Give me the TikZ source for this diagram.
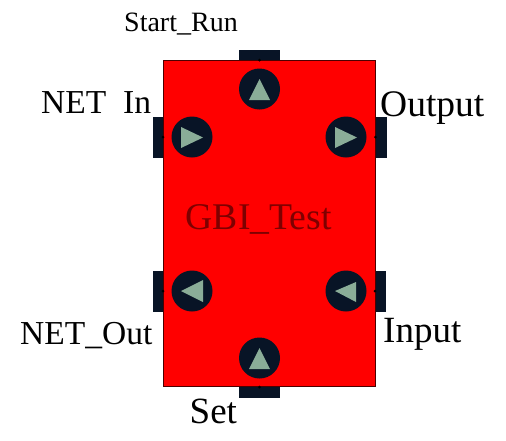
\documentclass[tikz,border=0pt]{standalone}
\usepackage{fontspec}
\setmainfont{Liberation Serif}
\definecolor{navy}{HTML}{081426}
\definecolor{sage}{HTML}{8AAD98}
\definecolor{darkred}{HTML}{7E0000}
\tikzset{
  port/.style={circle,fill=navy,minimum size=41pt,inner sep=0pt},
  hbar/.style={rectangle,fill=navy,minimum width=41pt,minimum height=11pt,inner sep=0pt},
  vbar/.style={rectangle,fill=navy,minimum width=11pt,minimum height=41pt,inner sep=0pt},
  tri/.style={fill=sage},
  pin/.style={circle,fill=black,minimum size=3pt,inner sep=0pt},
  lab/.style={inner sep=0pt,anchor=base west,text=black},
}
\begin{document}
\begin{tikzpicture}[x=1pt,y=-1pt]
\useasboundingbox (0,0) rectangle (506,440);
\node[hbar] (bt) at (259.5,55) {};
\node[hbar] (bb) at (259.5,392) {};
\node[vbar] (bul) at (158,137) {};
\node[vbar] (bur) at (381,137) {};
\node[vbar] (bll) at (158,291) {};
\node[vbar] (blr) at (380,291) {};
\node[draw=black!70!red,line width=0.8pt,fill=red,minimum width=212pt,minimum height=326pt,inner sep=0pt] (body) at (269.5,223) {};
\node[pin] (pt) at (259.5,60) {};
\node[pin] (pb) at (259.5,387) {};
\node[pin] (pul) at (163,137) {};
\node[pin] (pur) at (375.5,137) {};
\node[pin] (pll) at (163,291) {};
\node[pin] (plr) at (375,291) {};
\node[port] (ct) at (259.5,89) {};
\node[port] (cb) at (259.5,358) {};
\node[port] (cul) at (192,137) {};
\node[port] (cur) at (346,137) {};
\node[port] (cll) at (192,291) {};
\node[port] (clr) at (346,291) {};
\fill[tri] (259.5,79) -- (270,100) -- (249,100) -- cycle;
\fill[tri] (259.5,348) -- (270,369) -- (249,369) -- cycle;
\fill[tri] (203,137.5) -- (181,127) -- (181,148) -- cycle;
\fill[tri] (357,137.5) -- (335,127) -- (335,148) -- cycle;
\fill[tri] (181,291) -- (203,280) -- (203,302) -- cycle;
\fill[tri] (335,291) -- (356,282) -- (356,302) -- cycle;
\node[lab,font=\fontsize{28}{28}\selectfont] (t1) at (124,31) {Start\_Run};
\node[lab,font=\fontsize{33.5}{33.5}\selectfont] (t2) at (41,113) {NET};
\node[lab,font=\fontsize{33.5}{33.5}\selectfont] (t3) at (123,113) {In};
\node[lab,font=\fontsize{37.5}{37.5}\selectfont] (t4) at (380,116) {Output};
\node[lab,font=\fontsize{37.7}{37.7}\selectfont,text=darkred] (t5) at (185.5,229) {GBI\_Test};
\node[lab,font=\fontsize{33.5}{33.5}\selectfont] (t6) at (20,344) {NET\_Out};
\node[lab,font=\fontsize{37}{37}\selectfont] (t7) at (383,342) {Input};
\node[lab,font=\fontsize{37}{37}\selectfont] (t8) at (189.5,423) {Set};
\end{tikzpicture}
\end{document}
